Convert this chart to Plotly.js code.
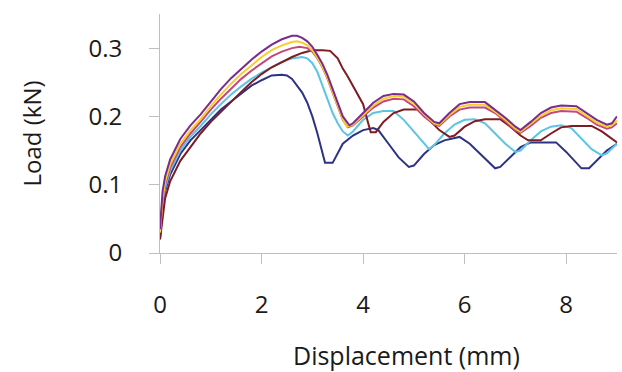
<!DOCTYPE html>
<html>
<head>
<meta charset="utf-8">
<script src="https://cdn.plot.ly/plotly-3.0.1.min.js"></script>
<style>html,body{margin:0;padding:0;background:#fff;}#chart{width:622px;height:372px;}</style>
</head>
<body>
<div id="chart"></div>
<script>
// Displacement (mm) / Load (kN) for each specimen curve
const navyX = [0,0.05,0.1,0.2,0.4,0.6,0.8,1.0,1.2,1.4,1.6,1.8,2.0,2.2,2.4,2.5,2.6,2.7,2.8,2.9,3.0,3.1,3.2,3.25,3.4,3.5,3.6,3.8,4.0,4.2,4.3,4.5,4.7,4.9,5.0,5.2,5.4,5.6,5.9,6.1,6.3,6.5,6.6,6.7,6.9,7.1,7.3,7.8,8.0,8.2,8.3,8.45,8.6,8.8,9.0];
const navyY = [0.02,0.065,0.09,0.115,0.145,0.165,0.18,0.195,0.21,0.222,0.234,0.245,0.253,0.26,0.261,0.26,0.255,0.245,0.235,0.22,0.2,0.175,0.145,0.132,0.132,0.145,0.16,0.172,0.18,0.183,0.18,0.16,0.14,0.126,0.128,0.145,0.158,0.165,0.17,0.16,0.145,0.13,0.124,0.126,0.14,0.155,0.162,0.162,0.148,0.132,0.124,0.124,0.135,0.15,0.16];

const cyanX = [0,0.05,0.1,0.2,0.4,0.6,0.8,1.0,1.2,1.4,1.6,1.8,2.0,2.2,2.4,2.6,2.8,2.9,3.0,3.1,3.2,3.3,3.4,3.5,3.6,3.7,3.8,4.0,4.2,4.4,4.6,4.8,5.0,5.2,5.3,5.4,5.6,5.8,6.0,6.2,6.4,6.6,6.8,7.0,7.1,7.3,7.5,7.7,7.9,8.1,8.3,8.5,8.7,8.8,9.0];
const cyanY = [0.03,0.07,0.095,0.12,0.15,0.17,0.186,0.203,0.218,0.232,0.244,0.255,0.264,0.272,0.28,0.285,0.287,0.285,0.278,0.265,0.245,0.225,0.205,0.19,0.178,0.172,0.178,0.195,0.205,0.208,0.208,0.195,0.178,0.162,0.152,0.158,0.175,0.188,0.195,0.196,0.19,0.175,0.16,0.148,0.15,0.165,0.178,0.185,0.187,0.183,0.168,0.152,0.143,0.146,0.16];

const maroonX = [0,0.05,0.1,0.2,0.4,0.6,0.8,1.0,1.2,1.4,1.6,1.8,2.0,2.2,2.4,2.6,2.8,3.0,3.2,3.35,3.5,3.6,3.7,3.8,3.9,4.0,4.1,4.15,4.25,4.4,4.6,4.8,5.1,5.3,5.5,5.7,5.8,6.0,6.2,6.4,6.7,6.9,7.1,7.25,7.5,7.7,7.9,8.1,8.5,8.7,8.9,9.0];
const maroonY = [0.02,0.055,0.08,0.105,0.135,0.155,0.175,0.192,0.207,0.222,0.236,0.25,0.262,0.272,0.28,0.287,0.293,0.297,0.297,0.296,0.285,0.27,0.258,0.245,0.232,0.218,0.19,0.177,0.177,0.192,0.205,0.21,0.21,0.195,0.18,0.17,0.172,0.185,0.193,0.196,0.196,0.185,0.172,0.165,0.165,0.175,0.184,0.186,0.186,0.178,0.168,0.162];

const pinkX = [0,0.05,0.1,0.2,0.4,0.6,0.8,1.0,1.2,1.4,1.6,1.8,2.0,2.2,2.4,2.6,2.75,2.9,3.0,3.1,3.2,3.3,3.4,3.5,3.6,3.7,3.8,4.0,4.2,4.4,4.6,4.8,5.0,5.2,5.4,5.5,5.7,5.9,6.1,6.4,6.6,6.8,7.0,7.1,7.3,7.5,7.7,7.9,8.2,8.4,8.6,8.8,8.9,9.0];
const pinkY = [0.03,0.075,0.1,0.125,0.155,0.175,0.192,0.21,0.226,0.241,0.255,0.267,0.278,0.288,0.295,0.3,0.302,0.3,0.295,0.285,0.272,0.255,0.235,0.215,0.195,0.184,0.187,0.2,0.213,0.222,0.226,0.225,0.215,0.2,0.188,0.186,0.2,0.21,0.213,0.213,0.205,0.193,0.18,0.176,0.186,0.198,0.205,0.208,0.207,0.198,0.188,0.182,0.184,0.19];

const yellowX = [0,0.05,0.1,0.2,0.4,0.6,0.8,1.0,1.2,1.4,1.6,1.8,2.0,2.2,2.4,2.6,2.7,2.8,2.9,3.0,3.1,3.2,3.3,3.4,3.5,3.6,3.68,3.8,4.0,4.2,4.4,4.6,4.8,5.0,5.2,5.4,5.5,5.7,5.9,6.1,6.4,6.6,6.8,7.0,7.1,7.3,7.5,7.7,7.9,8.2,8.4,8.6,8.8,8.9,9.0];
const yellowY = [0.03,0.08,0.104,0.13,0.16,0.18,0.196,0.215,0.232,0.248,0.262,0.275,0.287,0.297,0.304,0.309,0.31,0.308,0.304,0.297,0.286,0.273,0.256,0.236,0.215,0.196,0.185,0.188,0.202,0.216,0.226,0.23,0.229,0.219,0.203,0.19,0.188,0.202,0.214,0.217,0.217,0.207,0.195,0.182,0.178,0.189,0.201,0.209,0.212,0.211,0.201,0.191,0.185,0.187,0.194];

const purpleX = [0,0.05,0.1,0.2,0.4,0.6,0.8,1.0,1.2,1.4,1.6,1.8,2.0,2.2,2.4,2.6,2.7,2.8,2.9,3.0,3.1,3.2,3.3,3.4,3.5,3.6,3.73,3.8,4.0,4.2,4.4,4.6,4.8,5.0,5.2,5.4,5.5,5.7,5.9,6.1,6.4,6.6,6.8,7.0,7.1,7.3,7.5,7.7,7.9,8.2,8.4,8.6,8.8,8.9,9.0];
const purpleY = [0.035,0.09,0.112,0.137,0.167,0.187,0.203,0.222,0.24,0.256,0.27,0.283,0.295,0.305,0.313,0.318,0.318,0.315,0.31,0.302,0.29,0.277,0.26,0.24,0.22,0.2,0.187,0.19,0.205,0.22,0.23,0.233,0.232,0.222,0.205,0.192,0.19,0.205,0.218,0.221,0.221,0.21,0.198,0.185,0.18,0.192,0.205,0.213,0.216,0.215,0.205,0.195,0.188,0.19,0.2];

const xTicks = [0,2,4,6,8];
const yTicks = [0,0.1,0.2,0.3];
const yTickLabels = ['0','0.1','0.2','0.3'];
const xTitle = 'Displacement (mm)';
const yTitle = 'Load (kN)';

const series = [
  {x: navyX, y: navyY, color: '#2e3286', name: 'S1'},
  {x: cyanX, y: cyanY, color: '#5cc4e4', name: 'S2'},
  {x: maroonX, y: maroonY, color: '#7d1c22', name: 'S3'},
  {x: pinkX, y: pinkY, color: '#c4497a', name: 'S4'},
  {x: yellowX, y: yellowY, color: '#f5cf2e', name: 'S5'},
  {x: purpleX, y: purpleY, color: '#7a2b8e', name: 'S6'}
];

const traces = series.map(s => ({
  type: 'scatter', mode: 'lines', x: s.x, y: s.y, name: s.name,
  line: {color: s.color, width: 2}
}));

const fontFam = '"Open Sans", Lato, sans-serif';
const txtColor = '#1a1a1a';
const layout = {
  width: 622, height: 372,
  margin: {l: 160, r: 5, t: 14, b: 119},
  paper_bgcolor: '#fff', plot_bgcolor: '#fff',
  showlegend: false,
  font: {family: fontFam, size: 24, color: txtColor},
  xaxis: {
    range: [0, 9], tickvals: xTicks, ticktext: xTicks.map(String),
    showgrid: false, zeroline: false, showline: true, linecolor: '#bfbfbf', linewidth: 1,
    ticks: 'outside', ticklen: 10, tickcolor: '#bfbfbf', tickwidth: 1,
    ticklabelstandoff: 20,
    tickfont: {family: fontFam, size: 24, color: txtColor}
  },
  yaxis: {
    range: [0, 0.35], tickvals: yTicks, ticktext: yTickLabels,
    showgrid: false, zeroline: false, showline: true, linecolor: '#bfbfbf', linewidth: 1,
    ticks: 'outside', ticklen: 10, tickcolor: '#bfbfbf', tickwidth: 1,
    ticklabelstandoff: 22,
    tickfont: {family: fontFam, size: 24, color: txtColor},
    title: {text: yTitle, font: {family: fontFam, size: 24, color: txtColor}, standoff: 40}
  },
  annotations: [{
    text: xTitle, xref: 'paper', yref: 'paper', x: 0.54, y: -0.428,
    xanchor: 'center', yanchor: 'middle', showarrow: false, borderpad: 0,
    font: {family: fontFam, size: 25, color: txtColor}
  }]
};

Plotly.newPlot('chart', traces, layout, {displayModeBar: false, staticPlot: true});
</script>
</body>
</html>
